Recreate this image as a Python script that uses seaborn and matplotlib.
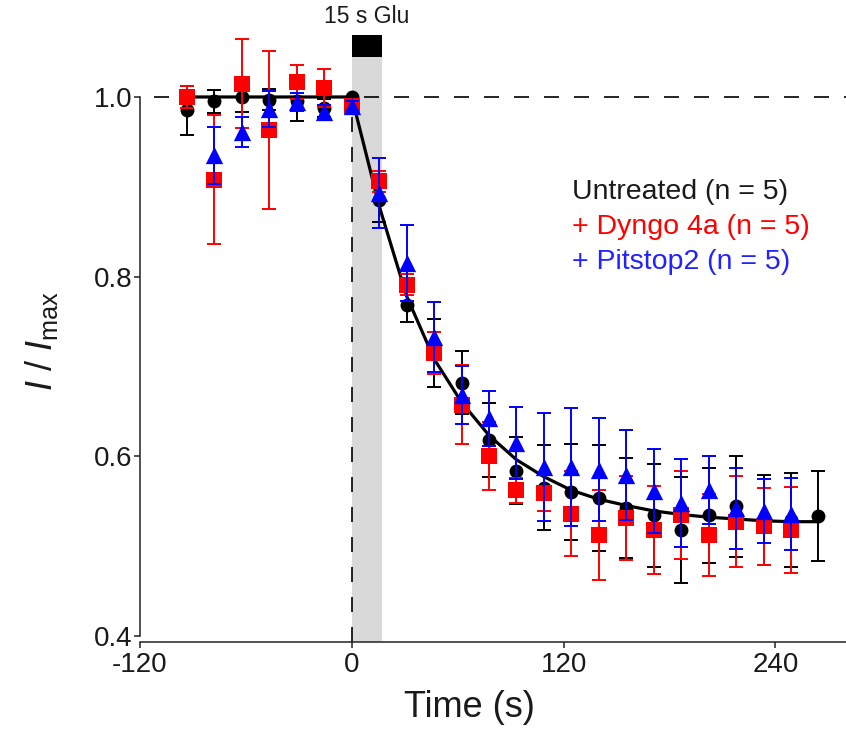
import numpy as np
import pandas as pd
import seaborn as sns
import matplotlib.pyplot as plt

# Sample times (s), glutamate applied at t = 0
time_s = [-93.3, -77.8, -62.2, -46.7, -31.1, -15.6, 0.0, 15.6, 31.1, 46.7,
          62.2, 77.8, 93.3, 108.9, 124.4, 140.0, 155.5, 171.1, 186.6, 202.2,
          217.7, 233.3, 248.8, 264.4]

# Untreated (n = 5), all 24 time points
untreated = [0.985, 0.995, 1.000, 0.997, 0.995, 0.988, 1.000, 0.885, 0.768, 0.715,
             0.682, 0.618, 0.584, 0.565, 0.560, 0.553, 0.542, 0.534, 0.518, 0.534,
             0.544, 0.529, 0.529, 0.533]
untreated_sem = [0.027, 0.013, 0.017, 0.012, 0.022, 0.010, 0.000, 0.024, 0.019, 0.038,
                 0.035, 0.041, 0.037, 0.047, 0.053, 0.059, 0.056, 0.057, 0.059, 0.053,
                 0.056, 0.050, 0.052, 0.050]

# + Dyngo 4a (n = 5), first 23 time points
dyngo = [1.000, 0.908, 1.015, 0.963, 1.017, 1.010, 0.990, 0.906, 0.791, 0.715,
         0.657, 0.600, 0.562, 0.559, 0.536, 0.512, 0.531, 0.518, 0.534, 0.512,
         0.527, 0.522, 0.518]
dyngo_sem = [0.012, 0.072, 0.050, 0.088, 0.019, 0.021, 0.005, 0.012, 0.012, 0.023,
             0.044, 0.038, 0.014, 0.020, 0.047, 0.050, 0.047, 0.049, 0.049, 0.046,
             0.051, 0.043, 0.048]

# + Pitstop2 (n = 5), time points 2..23
pitstop = [0.935, 0.961, 0.987, 0.994, 0.983, 0.990, 0.893, 0.815, 0.733, 0.668,
           0.642, 0.615, 0.588, 0.588, 0.585, 0.579, 0.561, 0.548, 0.562, 0.542,
           0.539, 0.536]
pitstop_sem = [0.032, 0.017, 0.020, 0.010, 0.008, 0.005, 0.039, 0.042, 0.039, 0.032,
               0.031, 0.040, 0.060, 0.066, 0.057, 0.050, 0.047, 0.049, 0.038, 0.045,
               0.036, 0.040]

# mono-exponential fit of the untreated trace, read at each sample time
fit = [1.000, 1.000, 1.000, 1.000, 1.000, 1.000, 1.000, 0.878, 0.778, 0.708,
       0.660, 0.623, 0.596, 0.577, 0.562, 0.552, 0.545, 0.539, 0.535, 0.532,
       0.530, 0.528, 0.527, 0.527]

glu_on, glu_off = 0, 17

df_u = pd.DataFrame({'Time': time_s, 'I': untreated, 'sem': untreated_sem})
df_d = pd.DataFrame({'Time': time_s[:len(dyngo)], 'I': dyngo, 'sem': dyngo_sem})
df_p = pd.DataFrame({'Time': time_s[1:1 + len(pitstop)], 'I': pitstop, 'sem': pitstop_sem})
df_fit = pd.DataFrame({'Time': time_s, 'I': fit})

sns.set_style("ticks")
plt.rcParams['font.family'] = ['Liberation Sans', 'DejaVu Sans']
plt.rcParams['mathtext.fontset'] = 'custom'
plt.rcParams['mathtext.rm'] = 'Liberation Sans'
plt.rcParams['mathtext.it'] = 'Liberation Sans:italic'

fig = plt.figure(figsize=(8.46, 7.34), dpi=100)
ax = fig.add_axes([140 / 846, 92 / 734, 706 / 846, 642 / 734])
ax.set_xlim(-120, 280)
ax.set_ylim(0.393, 1.108)

# glutamate application
ax.axvspan(glu_on, glu_off, ymin=0, ymax=(1.044 - 0.393) / (1.108 - 0.393),
           color='#d9d9d9', lw=0, zorder=0)
ax.fill_between([glu_on, glu_off], 1.044, 1.069, color='black', lw=0, zorder=1)
ax.text((glu_on + glu_off) / 2, 1.077, '15 s Glu', ha='center', va='bottom',
        fontsize=16.5, color='#1a1a1a')

# reference lines
ax.plot([-112, 280], [1.0, 1.0], color='black', lw=1.2, ls=(0, (9, 9)), zorder=1)
ax.plot([0, 0], [0.393, 1.0], color='black', lw=1.2, ls=(0, (9, 9)), zorder=1)

series = [
    (df_u, 'black', 'o', 100, 3),
    (df_d, '#ff0000', 's', 130, 5),
    (df_p, '#0000ff', '^', 155, 6),
]
for d, col, mk, size, z in series:
    ax.errorbar(d['Time'], d['I'], yerr=d['sem'], fmt='none', ecolor=col,
                elinewidth=1.4, capsize=4.8, capthick=1.4, zorder=z)
    sns.scatterplot(data=d, x='Time', y='I', marker=mk, s=size, color=col,
                    edgecolor=col, linewidth=0, ax=ax, zorder=z + 0.1, legend=False)
    if col == 'black':
        sns.lineplot(data=df_fit, x='Time', y='I', color='black', lw=2.3,
                     ax=ax, zorder=4, legend=False)

# text legend
legend_items = [('Untreated (n = 5)', '#1a1a1a', 0.894),
                ('+ Dyngo 4a (n = 5)', '#ff0000', 0.855),
                ('+ Pitstop2 (n = 5)', '#2222ff', 0.816)]
for label, col, yv in legend_items:
    ax.text(124.5, yv, label, color=col, fontsize=20.5, ha='left', va='center')

ax.set_xticks([-120, 0, 120, 240])
ax.set_xticklabels(['-120', '0', '120', '240'])
ax.set_yticks([0.4, 0.6, 0.8, 1.0])
ax.set_yticklabels(['0.4', '0.6', '0.8', '1.0'])
ax.tick_params(axis='both', labelsize=20, length=4.5, width=1.1, color='#222222',
               labelcolor='#1a1a1a')
ax.tick_params(axis='y', pad=1)
ax.tick_params(axis='x', pad=3)

sns.despine(ax=ax)
ax.spines['left'].set_bounds(0.4, 1.0)
for s in ['left', 'bottom']:
    ax.spines[s].set_linewidth(1.1)
    ax.spines[s].set_color('#222222')

ax.set_xlabel('Time (s)', fontsize=26, color='#1a1a1a')
ax.xaxis.set_label_coords((469 - 140) / 706, -0.075)
ax.set_ylabel(r'$I\ /\ I_{\rm max}$', fontsize=26, color='#1a1a1a')
ax.yaxis.set_label_coords((60 - 140) / 706, (642 - 341) / 642)

fig.savefig('out.png', dpi=100)
plt.close(fig)
